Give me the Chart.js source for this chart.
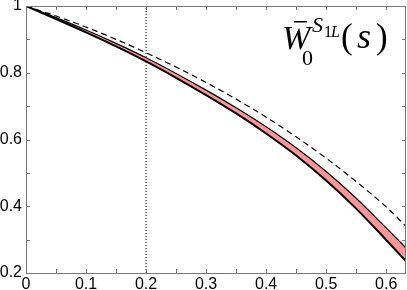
<!DOCTYPE html>
<html>
<head>
<meta charset="utf-8">
<script src="https://cdn.jsdelivr.net/npm/chart.js@4/dist/chart.umd.min.js"></script>
<style>
  html, body { margin: 0; padding: 0; background: #fff; }
  #wrap { width: 407px; height: 290px; position: relative; }
</style>
</head>
<body>
<div id="wrap"><canvas id="myChart"></canvas></div>
<script>
// values
const sValues = [0, 0.05, 0.1, 0.15, 0.2, 0.25, 0.3, 0.35, 0.4, 0.45, 0.5, 0.55, 0.6, 0.633];
const dashedValues = [1, 0.970, 0.937, 0.900, 0.860, 0.817, 0.771, 0.721, 0.667, 0.608, 0.544, 0.474, 0.398, 0.340];
const bandUpper = [1, 0.965, 0.928, 0.888, 0.845, 0.798, 0.748, 0.695, 0.638, 0.575, 0.504, 0.424, 0.335, 0.275];
const bandLower = [1, 0.961, 0.921, 0.879, 0.834, 0.785, 0.733, 0.678, 0.618, 0.552, 0.477, 0.393, 0.299, 0.235];
const markerS = [0.2];

const xTickValues = [0, 0.1, 0.2, 0.3, 0.4, 0.5, 0.6];
const xTickLabels = ["0", "0.1", "0.2", "0.3", "0.4", "0.5", "0.6"];
const xMinorTicks = [0.05, 0.15, 0.25, 0.35, 0.45, 0.55];
const yTickValues = [0.2, 0.4, 0.6, 0.8, 1];
const yTickLabels = ["0.2", "0.4", "0.6", "0.8", "1"];
const yMinorTicks = [0.3, 0.5, 0.7, 0.9];

const xMin = 0, xMax = 0.633, yMin = 0.2, yMax = 1;

const toPoints = (ys) => sValues.map((s, i) => ({ x: s, y: ys[i] }));

// frame, inward ticks and the formula label
const framePlugin = {
  id: "frame",
  afterDraw(chart) {
    const ctx = chart.ctx;
    const a = chart.chartArea;
    const xs = chart.scales.x;
    const ys = chart.scales.y;
    ctx.save();
    ctx.strokeStyle = "#7a7a7a";
    ctx.lineWidth = 1;
    ctx.strokeRect(a.left + 0.5, a.top + 0.5, a.right - a.left - 1, a.bottom - a.top);
    ctx.beginPath();
    xTickValues.concat(xMinorTicks).forEach((v) => {
      const px = Math.round(xs.getPixelForValue(v)) + 0.5;
      ctx.moveTo(px, a.bottom); ctx.lineTo(px, a.bottom - 4);
      ctx.moveTo(px, a.top); ctx.lineTo(px, a.top + 4);
    });
    yTickValues.concat(yMinorTicks).forEach((v) => {
      const py = Math.round(ys.getPixelForValue(v)) + 0.5;
      ctx.moveTo(a.left, py); ctx.lineTo(a.left + 4, py);
      ctx.moveTo(a.right, py); ctx.lineTo(a.right - 4, py);
    });
    ctx.stroke();

    // W-bar_0^{S_1L}(s)
    ctx.fillStyle = "#000";
    ctx.textBaseline = "alphabetic";
    ctx.font = "italic 34px 'Liberation Serif'";
    ctx.fillText("W", 282, 49);
    ctx.fillRect(294, 21, 13, 1.5);
    ctx.font = "22px 'Liberation Serif'";
    ctx.fillText("0", 302, 65);
    ctx.font = "italic 22px 'Liberation Serif'";
    ctx.fillText("S", 312, 32);
    ctx.font = "16px 'Liberation Serif'";
    ctx.fillText("1", 324, 37);
    ctx.font = "italic 16px 'Liberation Serif'";
    ctx.fillText("L", 331, 37);
    ctx.font = "35px 'Liberation Serif'";
    ctx.fillText("(", 341, 48);
    ctx.font = "italic 36px 'Liberation Serif'";
    ctx.fillText("s", 357, 48);
    ctx.font = "35px 'Liberation Serif'";
    ctx.fillText(")", 376, 48);
    ctx.restore();
  }
};

const ctx = document.getElementById("myChart").getContext("2d");

const chart = new Chart(ctx, {
  type: "line",
  data: {
    datasets: [
      {
        label: "lower",
        data: toPoints(bandLower),
        borderColor: "#000",
        borderWidth: 2,
        pointRadius: 0,
        fill: false,
        cubicInterpolationMode: "monotone"
      },
      {
        label: "upper",
        data: toPoints(bandUpper),
        borderColor: "#000",
        borderWidth: 1.2,
        backgroundColor: "rgb(255, 150, 150)",
        pointRadius: 0,
        fill: "-1",
        cubicInterpolationMode: "monotone"
      },
      {
        label: "dashed",
        data: toPoints(dashedValues),
        borderColor: "#000",
        borderWidth: 1.2,
        borderDash: [6, 4],
        pointRadius: 0,
        fill: false,
        cubicInterpolationMode: "monotone"
      },
      {
        label: "marker",
        data: [{ x: markerS[0], y: yMin }, { x: markerS[0], y: yMax }],
        borderColor: "#000",
        borderWidth: 1,
        borderDash: [1, 2],
        pointRadius: 0,
        fill: false
      }
    ]
  },
  options: {
    responsive: true,
    maintainAspectRatio: false,
    animation: false,
    layout: { padding: { top: 6, right: 1, left: 0, bottom: 0 } },
    plugins: {
      legend: { display: false },
      tooltip: { enabled: false }
    },
    scales: {
      x: {
        type: "linear",
        min: xMin,
        max: xMax,
        grid: { display: false, drawTicks: false },
        border: { display: false },
        afterBuildTicks(scale) {
          scale.ticks = xTickValues.map((v) => ({ value: v }));
        },
        afterFit(scale) {
          scale.height = 17;
          scale.paddingLeft = 0;
          scale.paddingRight = 0;
        },
        ticks: {
          autoSkip: false,
          maxRotation: 0,
          padding: 2,
          color: "#000",
          font: { family: "'Liberation Sans'", size: 16 },
          callback: (v, i) => xTickLabels[i]
        }
      },
      y: {
        type: "linear",
        min: yMin,
        max: yMax,
        grid: { display: false, drawTicks: false },
        border: { display: false },
        afterBuildTicks(scale) {
          scale.ticks = yTickValues.map((v) => ({ value: v }));
        },
        afterFit(scale) {
          scale.width = 26;
          scale.paddingTop = 0;
          scale.paddingBottom = 0;
        },
        ticks: {
          autoSkip: false,
          padding: 4,
          color: "#000",
          font: { family: "'Liberation Sans'", size: 16 },
          callback: (v, i) => yTickLabels[i]
        }
      }
    }
  },
  plugins: [framePlugin]
});
</script>
</body>
</html>
